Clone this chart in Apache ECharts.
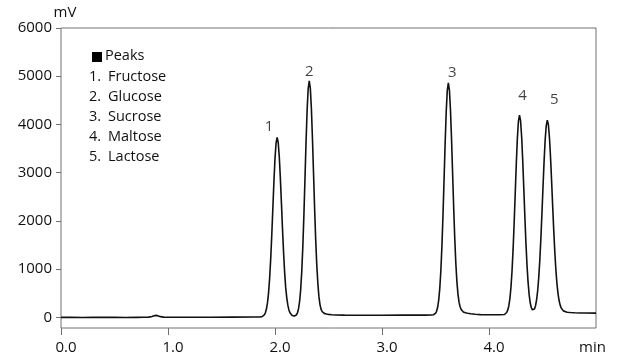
<!DOCTYPE html>
<html>
<head>
<meta charset="utf-8">
<script src="https://cdn.jsdelivr.net/npm/echarts@6/dist/echarts.min.js"></script>
<style>
  html, body { margin: 0; padding: 0; background: #fff; }
  #chart { width: 632px; height: 362px; }
</style>
</head>
<body>
<div id="chart"></div>
<script>
// ---------- data ----------
const signal = [
  [0,0],[0.1,1],[0.2,-2],[0.3,0],[0.4,2],[0.5,0],[0.6,-2],[0.7,0],[0.78,2],[0.82,5],
  [0.85,18],[0.87,35],[0.89,42],[0.91,30],[0.93,15],[0.96,6],[1.0,4],[1.2,3],[1.4,3],
  [1.6,5],[1.8,7],[1.86,10],[1.88,18],
  [1.89,29],[1.90,51],[1.91,95],[1.92,173],[1.93,306],[1.94,513],[1.95,815],[1.96,1218],
  [1.97,1713],[1.98,2266],[1.99,2818],[2.00,3293],[2.01,3615],[2.02,3730],[2.03,3626],
  [2.04,3331],[2.05,2892],[2.06,2374],[2.07,1841],[2.08,1351],[2.09,938],[2.10,616],
  [2.11,405],[2.12,254],[2.13,155],[2.14,95],[2.15,59],[2.16,39],[2.17,28],[2.18,28],
  [2.19,32],[2.20,50],[2.21,95],[2.22,180],[2.23,330],[2.24,576],[2.25,949],[2.26,1464],
  [2.27,2115],[2.28,2862],[2.29,3622],[2.30,4286],[2.31,4740],[2.32,4902],[2.33,4753],
  [2.34,4335],[2.35,3716],[2.36,2996],[2.37,2274],[2.38,1628],[2.39,1108],[2.40,722],
  [2.41,440],[2.42,270],[2.43,172],[2.44,122],[2.45,96],[2.46,83],[2.48,70],[2.50,62],
  [2.53,55],[2.57,50],[2.65,47],[2.8,45],[3.0,45],[3.2,46],[3.4,47],[3.46,50],[3.48,55],
  [3.49,61],[3.50,83],[3.51,126],[3.52,210],[3.53,358],[3.54,601],[3.55,967],[3.56,1476],
  [3.57,2117],[3.58,2853],[3.59,3601],[3.60,4255],[3.61,4702],[3.62,4862],[3.63,4713],
  [3.64,4301],[3.65,3691],[3.66,2982],[3.67,2270],[3.68,1634],[3.69,1122],[3.70,742],
  [3.71,483],[3.72,316],[3.73,220],[3.74,163],[3.75,131],[3.76,111],[3.78,95],[3.80,85],
  [3.83,75],[3.87,65],[3.92,58],[4.0,55],[4.1,55],[4.145,60],
  [4.155,76],[4.165,101],[4.175,149],[4.185,237],[4.195,384],[4.205,615],[4.215,950],
  [4.225,1399],[4.235,1950],[4.245,2565],[4.255,3179],[4.265,3708],[4.275,4066],[4.285,4194],
  [4.295,4078],[4.305,3750],[4.315,3262],[4.325,2685],[4.335,2096],[4.345,1550],[4.355,1092],
  [4.365,735],[4.375,477],[4.385,303],[4.395,206],[4.405,156],[4.415,145],[4.425,173],
  [4.435,243],[4.445,366],[4.455,558],[4.465,830],[4.475,1193],[4.485,1646],[4.495,2167],
  [4.505,2719],[4.515,3245],[4.525,3684],[4.535,3976],[4.545,4088],[4.555,3995],[4.565,3729],
  [4.575,3325],[4.585,2834],[4.595,2312],[4.605,1809],[4.615,1362],[4.625,989],[4.635,701],
  [4.645,493],[4.655,350],[4.665,254],[4.675,194],[4.685,158],[4.695,135],[4.71,120],
  [4.73,108],[4.76,100],[4.80,95],[4.85,92],[4.90,90],[5.0,88]
];
const peakNumbers = ['1', '2', '3', '4', '5'];
const peakNames = ['Fructose', 'Glucose', 'Sucrose', 'Maltose', 'Lactose'];
const peakTimes = [2.02, 2.32, 3.62, 4.285, 4.545];
const peakHeights = [3730, 4902, 4862, 4194, 4088];
const xTicks = [0, 1, 2, 3, 4];
const yTicks = [0, 1000, 2000, 3000, 4000, 5000, 6000];
const legendTitle = 'Peaks';
const xName = 'min';
const yName = 'mV';

// ---------- styling ----------
const FONT = 'Open Sans';
const TXT = '#111';
const AX = '#707070';
const peakLabelOffsets = [[-8, -11], [0, -9], [4, -10], [3, -19], [7, -20]];

const chart = echarts.init(document.getElementById('chart'), null, { renderer: 'canvas' });

const legendGraphics = [
  { type: 'rect', left: 92, top: 52, shape: { width: 10, height: 10 }, style: { fill: '#000' } },
  { type: 'text', left: 105, top: 48, style: { text: legendTitle, font: '14.5px "' + FONT + '"', fill: TXT } }
];
peakNames.forEach((name, i) => {
  const top = 69 + i * 20.2;
  legendGraphics.push({ type: 'text', left: 89, top: top, style: { text: peakNumbers[i] + '.', font: '14.5px "' + FONT + '"', fill: TXT } });
  legendGraphics.push({ type: 'text', left: 108, top: top, style: { text: name, font: '14.5px "' + FONT + '"', fill: TXT } });
});

chart.setOption({
  animation: false,
  backgroundColor: '#fff',
  textStyle: { fontFamily: FONT },
  grid: { left: 61, right: 36, top: 28, bottom: 34, show: true, borderColor: AX, borderWidth: 1, backgroundColor: 'transparent' },
  xAxis: {
    type: 'value', min: 0, max: 5,
    axisLine: { show: false, onZero: false },
    splitLine: { show: false },
    axisTick: { show: true, customValues: xTicks, length: 7, lineStyle: { color: AX } },
    axisLabel: {
      customValues: xTicks, formatter: v => Number(v).toFixed(1),
      fontSize: 15, color: TXT, margin: 12, padding: [0, 0, 0, 10], fontFamily: FONT
    },
    name: xName, nameLocation: 'end', nameGap: -3.5,
    nameTextStyle: { fontSize: 15, color: TXT, align: 'center', verticalAlign: 'top', padding: [12, 0, 0, 0], fontFamily: FONT }
  },
  yAxis: {
    type: 'value', min: -220, max: 6000,
    axisLine: { show: false, onZero: false },
    splitLine: { show: false },
    axisTick: { show: true, customValues: yTicks, length: 5, lineStyle: { color: AX } },
    axisLabel: {
      customValues: yTicks, formatter: v => String(v),
      fontSize: 15, color: TXT, margin: 9, padding: [9, 0, 0, 0], fontFamily: FONT
    },
    name: yName, nameLocation: 'end', nameGap: -1,
    nameTextStyle: { fontSize: 15, color: TXT, align: 'center', verticalAlign: 'bottom', padding: [0, 0, 0, 8], fontFamily: FONT }
  },
  series: [
    {
      type: 'line', data: signal, showSymbol: false, symbol: 'none', smooth: false,
      lineStyle: { color: '#111', width: 1.6 }, z: 3
    },
    {
      type: 'scatter', symbolSize: 0, silent: true, z: 4,
      data: peakTimes.map((t, i) => ({
        value: [t, peakHeights[i]],
        label: { offset: peakLabelOffsets[i] }
      })),
      label: {
        show: true, position: 'inside',
        formatter: p => peakNumbers[p.dataIndex],
        fontSize: 15, color: TXT, fontFamily: FONT
      }
    }
  ],
  graphic: legendGraphics
});
</script>
</body>
</html>
